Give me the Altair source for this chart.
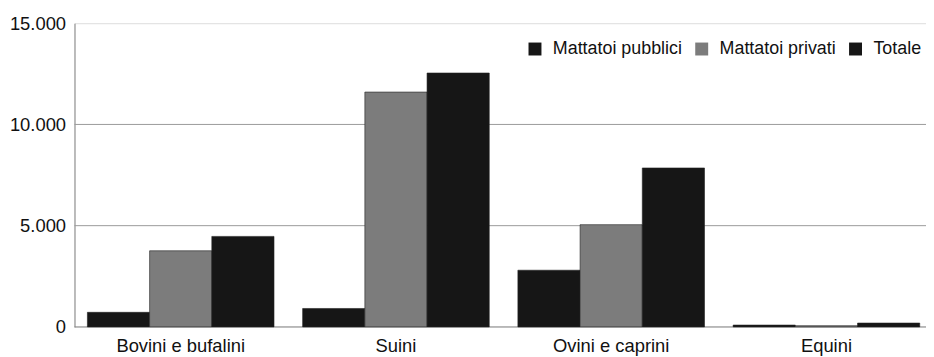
import altair as alt
import pandas as pd

categories = ["Bovini e bufalini", "Suini", "Ovini e caprini", "Equini"]
series = ["Mattatoi pubblici", "Mattatoi privati", "Totale"]
pubblici = [720, 910, 2800, 90]
privati = [3760, 11600, 5050, 60]
totale = [4470, 12540, 7850, 190]
y_ticks = [0, 5000, 10000, 15000]
grid_values = [5000, 10000]
baseline_values = [0]
colors = ["#161616", "#7c7c7c", "#161616"]

rows = []
for i, c in enumerate(categories):
    for s, vals in zip(series, [pubblici, privati, totale]):
        rows.append({"categoria": c, "serie": s, "valore": vals[i]})
df = pd.DataFrame(rows)
grid_df = pd.DataFrame({"g": grid_values})
base_df = pd.DataFrame({"g": baseline_values})

FONT = "Liberation Sans"

bars = alt.Chart(df).mark_bar(stroke="#222222", strokeWidth=0.6).encode(
    x=alt.X("categoria:N", sort=categories, title=None,
            scale=alt.Scale(range=[13, 851.7], paddingInner=0.133, paddingOuter=0),
            axis=alt.Axis(labelAngle=0, labelFontSize=18.5, labelFont=FONT, labelColor="#111111",
                          ticks=False, domain=False, labelPadding=10)),
    xOffset=alt.XOffset("serie:N", sort=series, scale=alt.Scale(paddingInner=0, paddingOuter=0)),
    y=alt.Y("valore:Q", title=None, scale=alt.Scale(domain=[0, 15000], nice=False),
            axis=alt.Axis(values=y_ticks, grid=False, ticks=False, labelFontSize=18.5, labelFont=FONT,
                          labelColor="#111111", domainColor="#8a8a8a", labelPadding=9,
                          labelExpr="replace(format(datum.value, ',d'), ',', '.')")),
    color=alt.Color("serie:N", sort=series,
                    scale=alt.Scale(domain=series, range=colors),
                    legend=alt.Legend(title=None, orient="none", direction="horizontal",
                                      legendX=455, legendY=17, symbolType="square", symbolSize=170,
                                      symbolStrokeWidth=0, labelFontSize=18, labelFont=FONT,
                                      labelColor="#111111", columnPadding=10, labelOffset=9)),
)

grid = alt.Chart(grid_df).mark_rule(color="#9a9a9a", strokeWidth=1).encode(y="g:Q")
base = alt.Chart(base_df).mark_rule(color="#8a8a8a", strokeWidth=1).encode(y="g:Q")

chart = alt.layer(grid, base, bars).properties(
    width=858, height=306,
    autosize=alt.AutoSizeParams(type="none"),
    padding={"left": 67, "top": 14, "right": 0, "bottom": 29},
).configure_view(stroke=None).configure(background="white")

chart.save("out.html", embed_options={"renderer": "svg", "actions": False})
